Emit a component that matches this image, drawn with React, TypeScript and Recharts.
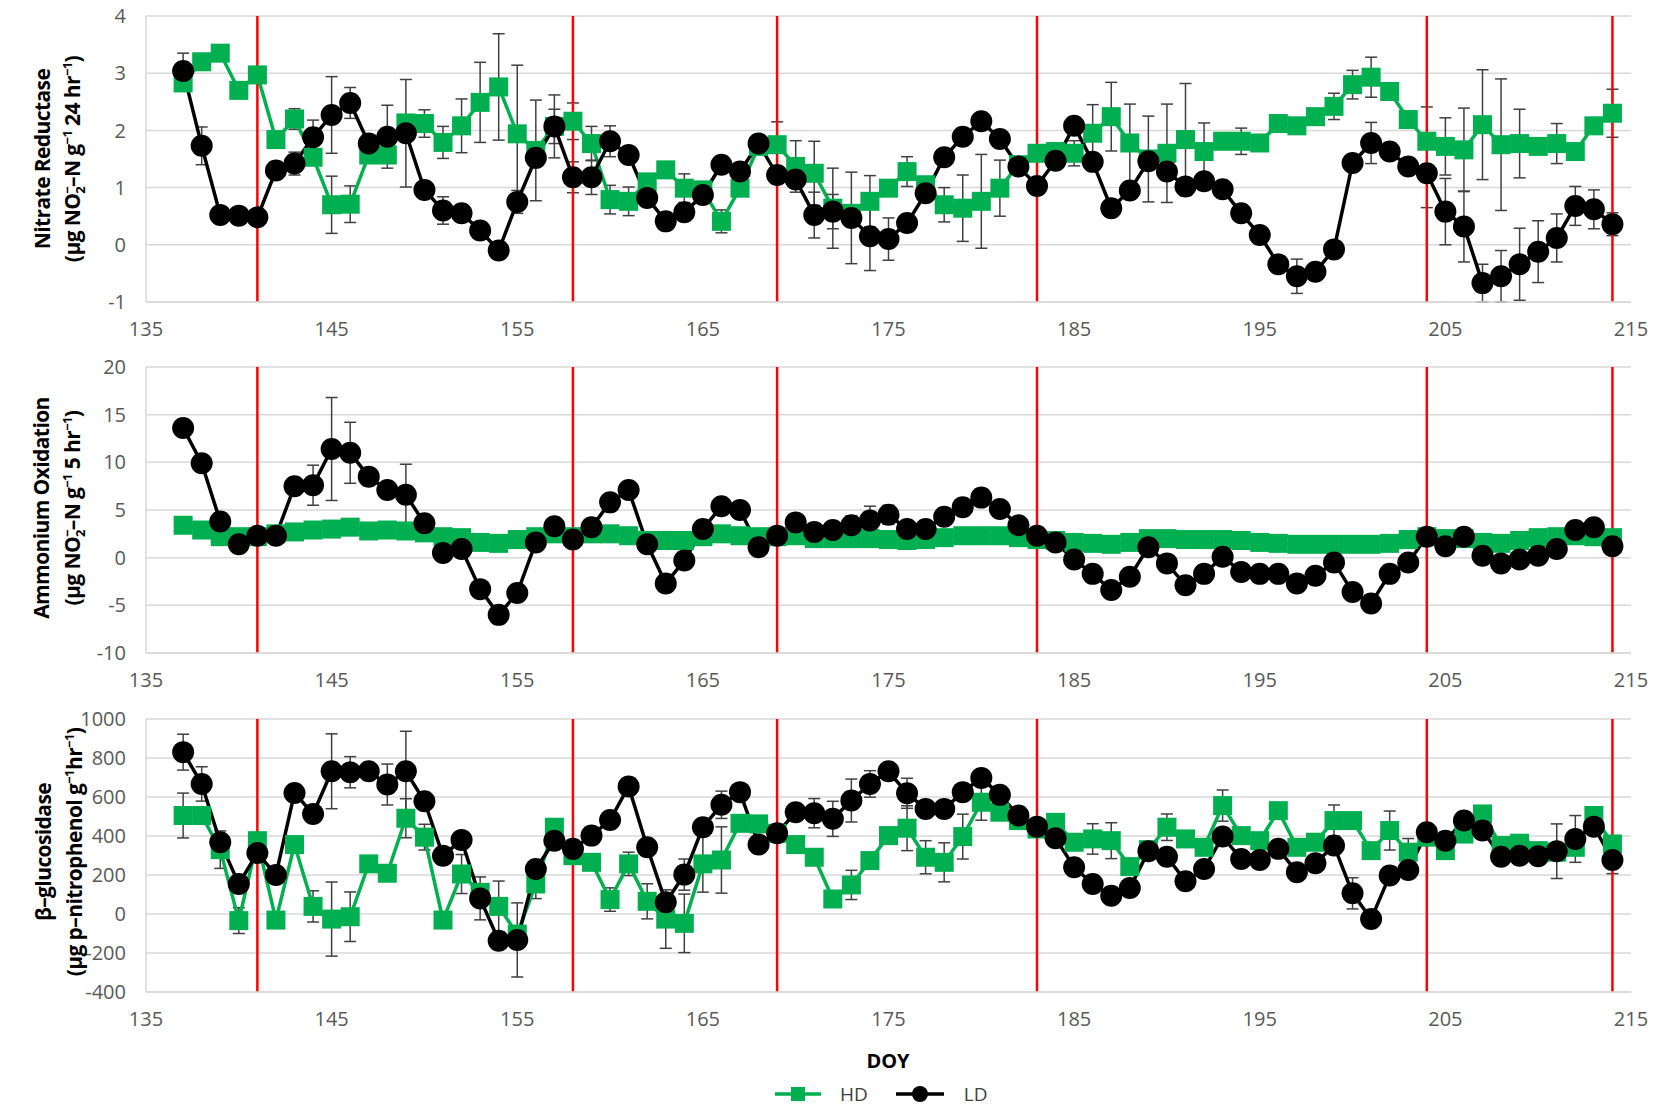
import React from 'react'
import {
  LineChart,
  Line,
  XAxis,
  YAxis,
  CartesianGrid,
  ReferenceLine,
  ErrorBar
} from 'recharts'

// sampling days (DOY)
const days = [
  137, 138, 139, 140, 141, 142, 143, 144, 145, 146,
  147, 148, 149, 150, 151, 152, 153, 154, 155, 156,
  157, 158, 159, 160, 161, 162, 163, 164, 165, 166,
  167, 168, 169, 170, 171, 172, 173, 174, 175, 176,
  177, 178, 179, 180, 181, 182, 183, 184, 185, 186,
  187, 188, 189, 190, 191, 192, 193, 194, 195, 196,
  197, 198, 199, 200, 201, 202, 203, 204, 205, 206,
  207, 208, 209, 210, 211, 212, 213, 214
]

// harvest days (red lines)
const harvestDays = [141, 158, 169, 183, 204, 214]
const xTicks = [135, 145, 155, 165, 175, 185, 195, 205, 215]

// Nitrate reductase
const nrHD = [
  2.83, 3.2, 3.35, 2.7, 2.97, 1.84, 2.2, 1.53, 0.7, 0.71,
  1.57, 1.57, 2.13, 2.12, 1.79, 2.08, 2.49, 2.76, 1.94, 1.65,
  2.07, 2.16, 1.77, 0.79, 0.76, 1.1, 1.31, 0.99, 0.96, 0.41,
  0.99, 1.72, 1.75, 1.37, 1.25, 0.64, 0.55, 0.76, 0.99, 1.28,
  1.05, 0.7, 0.64, 0.76, 0.99, 1.4, 1.6, 1.63, 1.6, 1.95,
  2.24, 1.78, 1.5, 1.6, 1.84, 1.63, 1.81, 1.81, 1.78, 2.12,
  2.08, 2.24, 2.42, 2.8, 2.93, 2.68, 2.19, 1.81, 1.72, 1.66,
  2.1, 1.75, 1.77, 1.72, 1.77, 1.63, 2.08, 2.3
]
const nrHDErr = [
  0.1, 0.05, 0.05, 0.05, 0.05, 0.1, 0.18, 0.1, 0.5, 0.32,
  0.1, 0.1, 0.1, 0.24, 0.28, 0.47, 0.7, 0.93, 1.2, 0.88,
  0.55, 0.32, 0.3, 0.25, 0.25, 0.1, 0.1, 0.25, 0.1, 0.2,
  0.1, 0.1, 0.4, 0.45, 0.56, 0.7, 0.1, 0.45, 0.1, 0.26,
  0.1, 0.3, 0.58, 0.82, 0.49, 0.1, 0.1, 0.1, 0.22, 0.5,
  0.6, 0.68, 0.75, 0.86, 0.98, 0.5, 0.1, 0.23, 0.1, 0.1,
  0.1, 0.1, 0.23, 0.25, 0.35, 0.1, 0.1, 0.6, 0.5, 0.73,
  0.96, 1.15, 0.6, 0.1, 0.35, 0.1, 0.1, 0.42
]
const nrLD = [
  3.04, 1.73, 0.52, 0.51, 0.48, 1.3, 1.42, 1.88, 2.27, 2.48,
  1.77, 1.89, 1.95, 0.96, 0.6, 0.55, 0.25, -0.1, 0.75, 1.52,
  2.07, 1.18, 1.18, 1.81, 1.57, 0.82, 0.41, 0.57, 0.87, 1.4,
  1.28, 1.77, 1.22, 1.14, 0.52, 0.58, 0.47, 0.15, 0.1, 0.38,
  0.9, 1.53, 1.89, 2.16, 1.85, 1.37, 1.03, 1.47, 2.08, 1.45,
  0.64, 0.95, 1.46, 1.28, 1.02, 1.11, 0.97, 0.55, 0.17, -0.34,
  -0.55, -0.47, -0.08, 1.43, 1.78, 1.63, 1.37, 1.25, 0.58, 0.32,
  -0.67, -0.55, -0.34, -0.12, 0.12, 0.68, 0.62, 0.36
]
const nrLDErr = [
  0.31, 0.33, 0.05, 0.05, 0.05, 0.05, 0.2, 0.3, 0.67, 0.27,
  0.1, 0.55, 0.94, 0.1, 0.24, 0.1, 0.1, 0.1, 0.2, 0.1,
  0.3, 0.27, 0.3, 0.27, 0.1, 0.1, 0.1, 0.1, 0.1, 0.1,
  0.1, 0.1, 0.1, 0.1, 0.4, 0.3, 0.8, 0.6, 0.37, 0.1,
  0.1, 0.1, 0.1, 0.1, 0.1, 0.1, 0.1, 0.1, 0.1, 0.1,
  0.1, 0.1, 0.1, 0.1, 0.1, 0.1, 0.1, 0.1, 0.1, 0.1,
  0.3, 0.1, 0.1, 0.1, 0.36, 0.1, 0.1, 0.6, 0.58, 0.62,
  0.33, 0.45, 0.63, 0.54, 0.42, 0.34, 0.34, 0.2
]

// Ammonium oxidation
const aoHD = [
  3.4, 2.9, 2.2, 2.2, 2.2, 2.5, 2.7, 2.9, 3.0, 3.2,
  2.8, 2.9, 2.8, 2.6, 2.2, 2.1, 1.6, 1.5, 1.9, 2.2,
  2.5, 2.2, 2.5, 2.5, 2.3, 1.8, 1.8, 1.8, 2.2, 2.5,
  2.3, 2.2, 2.2, 2.3, 2.0, 2.0, 2.0, 2.0, 1.9, 1.8,
  1.9, 2.1, 2.3, 2.3, 2.3, 2.1, 1.9, 1.8, 1.6, 1.5,
  1.4, 1.6, 2.0, 2.0, 1.9, 1.9, 1.9, 1.8, 1.6, 1.5,
  1.4, 1.4, 1.4, 1.4, 1.4, 1.5, 1.9, 2.2, 2.0, 2.0,
  1.6, 1.5, 1.8, 2.1, 2.2, 2.3, 2.2, 2.1
]
const aoHDErr = [
  0.3, 0.3, 0.3, 0.3, 0.3, 0.3, 0.3, 0.3, 0.3, 0.3,
  0.3, 0.3, 0.3, 0.3, 0.3, 0.3, 0.3, 0.3, 0.3, 0.3,
  0.3, 0.3, 0.3, 0.3, 0.3, 0.3, 0.3, 0.3, 0.3, 0.3,
  0.3, 0.3, 0.3, 0.3, 0.3, 0.3, 0.3, 0.3, 0.3, 0.3,
  0.3, 0.3, 0.3, 0.3, 0.3, 0.3, 0.3, 0.3, 0.3, 0.3,
  0.3, 0.3, 0.3, 0.3, 0.3, 0.3, 0.3, 0.3, 0.3, 0.3,
  0.3, 0.3, 0.3, 0.3, 0.3, 0.3, 0.3, 0.3, 0.3, 0.3,
  0.3, 0.3, 0.3, 0.3, 0.3, 0.3, 0.3, 0.3
]
const aoLD = [
  13.6, 9.9, 3.8, 1.4, 2.3, 2.3, 7.5, 7.6, 11.4, 11.0,
  8.5, 7.1, 6.6, 3.6, 0.5, 0.9, -3.3, -6.0, -3.7, 1.6,
  3.3, 1.9, 3.2, 5.8, 7.1, 1.4, -2.7, -0.3, 3.0, 5.4,
  5.0, 1.1, 2.3, 3.7, 2.7, 2.9, 3.4, 3.9, 4.5, 3.0,
  3.0, 4.3, 5.3, 6.3, 5.1, 3.4, 2.3, 1.6, -0.2, -1.7,
  -3.4, -2.0, 1.1, -0.6, -2.9, -1.7, 0.1, -1.5, -1.7, -1.7,
  -2.7, -1.9, -0.5, -3.6, -4.8, -1.7, -0.5, 2.2, 1.2, 2.2,
  0.2, -0.6, -0.2, 0.2, 0.9, 2.9, 3.2, 1.2
]
const aoLDErr = [
  0.3, 0.3, 0.3, 0.3, 0.3, 0.3, 0.3, 2.1, 5.4, 3.2,
  0.3, 0.3, 3.2, 0.3, 0.3, 0.3, 0.3, 0.3, 0.3, 0.3,
  0.3, 0.3, 0.3, 0.3, 0.3, 0.3, 0.3, 0.3, 0.3, 0.3,
  0.3, 0.3, 0.3, 0.3, 0.5, 0.8, 1.0, 1.5, 1.0, 0.3,
  0.3, 0.3, 0.3, 0.3, 0.3, 0.3, 0.3, 0.3, 0.3, 0.3,
  0.3, 0.3, 0.3, 0.3, 0.3, 0.3, 0.3, 0.3, 0.3, 0.3,
  0.3, 0.3, 0.3, 0.3, 0.3, 0.3, 0.3, 0.3, 0.3, 0.3,
  0.3, 0.3, 0.3, 0.3, 0.3, 0.3, 0.3, 0.3
]

// beta-glucosidase
const bgHD = [
  505, 505, 330, -34, 376, -31, 356, 39, -26, -14,
  257, 209, 491, 394, -31, 205, 111, 39, -103, 154,
  445, 299, 265, 74, 257, 65, -26, -48, 257, 277,
  465, 462, 414, 356, 291, 77, 149, 274, 402, 440,
  291, 265, 397, 573, 522, 479, 436, 470, 368, 385,
  376, 243, 330, 445, 385, 342, 556, 402, 376, 530,
  342, 368, 479, 479, 325, 428, 317, 394, 325, 410,
  513, 351, 363, 325, 317, 342, 505, 359
]
const bgHDErr = [
  115, 30, 96, 66, 30, 30, 30, 80, 190, 127,
  30, 30, 100, 66, 30, 100, 30, 130, 30, 75,
  30, 30, 30, 60, 60, 90, 150, 150, 145, 170,
  30, 30, 30, 30, 30, 30, 75, 30, 30, 115,
  85, 100, 115, 92, 30, 30, 30, 30, 30, 78,
  92, 30, 30, 68, 30, 30, 80, 30, 30, 30,
  30, 30, 80, 30, 30, 100, 70, 30, 30, 30,
  30, 30, 30, 30, 30, 30, 30, 30
]
const bgLD = [
  830, 667, 368, 154, 313, 200, 621, 513, 732, 727,
  732, 664, 732, 578, 299, 380, 80, -137, -133, 231,
  376, 334, 402, 482, 654, 342, 60, 202, 445, 560,
  625, 356, 414, 522, 517, 488, 582, 667, 732, 619,
  539, 539, 625, 698, 611, 505, 448, 388, 240, 154,
  94, 133, 322, 294, 168, 231, 397, 282, 277, 334,
  214, 260, 351, 106, -26, 197, 226, 419, 376, 479,
  428, 294, 299, 296, 322, 385, 448, 277
]
const bgLDErr = [
  92, 88, 30, 30, 30, 30, 30, 30, 192, 80,
  30, 105, 205, 30, 30, 30, 110, 30, 190, 30,
  30, 30, 30, 30, 30, 30, 30, 80, 30, 70,
  30, 30, 30, 30, 75, 90, 110, 68, 30, 77,
  30, 30, 30, 30, 30, 30, 30, 30, 30, 30,
  30, 30, 30, 30, 30, 30, 30, 30, 30, 30,
  30, 30, 30, 80, 30, 30, 30, 30, 30, 30,
  30, 30, 30, 30, 140, 120, 30, 70
]

const GREEN = '#00b050'
const GRID = '#d9d9d9'
const TICK_FONT = { fontSize: 20, fill: '#595959', fontFamily: 'Open Sans' }

function buildRows(hd: number[], hdErr: number[], ld: number[], ldErr: number[]) {
  return days.map((d, i) => ({ day: d, hd: hd[i], hdErr: hdErr[i], ld: ld[i], ldErr: ldErr[i] }))
}

const SquareDot = (props: any) => {
  const { cx, cy, index } = props
  if (cx == null || cy == null) return null
  return <rect key={'s' + index} x={cx - 9.5} y={cy - 9.5} width={19} height={19} fill={GREEN} />
}

const CircleDot = (props: any) => {
  const { cx, cy, index } = props
  if (cx == null || cy == null) return null
  return <circle key={'c' + index} cx={cx} cy={cy} r={11} fill='#000' />
}

interface PanelProps {
  rows: any[]
  top: number
  plotHeight: number
  domain: [number, number]
  ticks: number[]
}

function Panel({ rows, top, plotHeight, domain, ticks }: PanelProps) {
  const mTop = 20
  const height = mTop + plotHeight + 45
  return (
    <div style={{ position: 'absolute', left: 0, top: top - mTop }}>
      <LineChart
        width={1660}
        height={height}
        data={rows}
        margin={{ top: mTop, right: 29, bottom: 5, left: 76 }}
      >
        <CartesianGrid vertical={false} stroke={GRID} strokeWidth={1.5} />
        <XAxis
          dataKey='day'
          type='number'
          domain={[135, 215]}
          ticks={xTicks}
          height={40}
          tickSize={0}
          tickMargin={20}
          axisLine={{ stroke: GRID, strokeWidth: 1.5 }}
          tickLine={false}
          tick={TICK_FONT}
        />
        <YAxis
          type='number'
          domain={domain}
          ticks={ticks}
          width={70}
          tickSize={0}
          tickMargin={20}
          axisLine={{ stroke: GRID, strokeWidth: 1.5 }}
          tickLine={false}
          tick={TICK_FONT}
          allowDataOverflow
        />
        <Line
          dataKey='hd'
          name='HD'
          type='linear'
          stroke={GREEN}
          strokeWidth={3.5}
          dot={SquareDot}
          activeDot={false}
          isAnimationActive={false}
        >
          <ErrorBar dataKey='hdErr' width={6} stroke='#404040' strokeWidth={1.5} isAnimationActive={false} />
        </Line>
        <Line
          dataKey='ld'
          name='LD'
          type='linear'
          stroke='#000'
          strokeWidth={3.5}
          dot={CircleDot}
          activeDot={false}
          isAnimationActive={false}
        >
          <ErrorBar dataKey='ldErr' width={6} stroke='#404040' strokeWidth={1.5} isAnimationActive={false} />
        </Line>
        {harvestDays.map(d => (
          <ReferenceLine key={d} x={d} stroke='#ff0000' strokeWidth={2.5} />
        ))}
      </LineChart>
    </div>
  )
}

const titleStyle: React.CSSProperties = {
  position: 'absolute',
  width: 360,
  height: 28,
  lineHeight: '28px',
  textAlign: 'center',
  transform: 'rotate(-90deg)',
  fontFamily: 'Open Sans',
  fontWeight: 700,
  fontSize: 21,
  letterSpacing: -0.6,
  color: '#000',
  whiteSpace: 'nowrap'
}

const supStyle: React.CSSProperties = { fontSize: 13, verticalAlign: 8, lineHeight: 0 }
const subStyle: React.CSSProperties = { fontSize: 13, verticalAlign: -5, lineHeight: 0 }

function Title({ cx, cy, children }: { cx: number; cy: number; children: React.ReactNode }) {
  return <div style={{ ...titleStyle, left: cx - 180, top: cy - 14 }}>{children}</div>
}

export default function App() {
  const nrRows = buildRows(nrHD, nrHDErr, nrLD, nrLDErr)
  const aoRows = buildRows(aoHD, aoHDErr, aoLD, aoLDErr)
  const bgRows = buildRows(bgHD, bgHDErr, bgLD, bgLDErr)

  return (
    <div style={{ position: 'absolute', left: 0, top: 0, width: 1660, height: 1107, background: '#fff' }}>
      <Panel rows={nrRows} top={16} plotHeight={286} domain={[-1, 4]} ticks={[-1, 0, 1, 2, 3, 4]} />
      <Panel rows={aoRows} top={367} plotHeight={286} domain={[-10, 20]} ticks={[-10, -5, 0, 5, 10, 15, 20]} />
      <Panel
        rows={bgRows}
        top={719}
        plotHeight={273}
        domain={[-400, 1000]}
        ticks={[-400, -200, 0, 200, 400, 600, 800, 1000]}
      />

      {/* y axis titles */}
      <Title cx={42} cy={159}>Nitrate Reductase</Title>
      <Title cx={72} cy={159}>
        (µg NO<span style={supStyle}>−</span><span style={{ ...subStyle, marginLeft: -7 }}>2</span>–N g<span style={supStyle}>−1</span> 24 hr<span style={supStyle}>−1</span>)
      </Title>
      <Title cx={41} cy={508}>Ammonium Oxidation</Title>
      <Title cx={72} cy={508}>
        (µg NO<span style={supStyle}>−</span><span style={{ ...subStyle, marginLeft: -7 }}>2</span>–N g<span style={supStyle}>−1</span> 5 hr<span style={supStyle}>−1</span>)
      </Title>
      <Title cx={43} cy={852}>β–glucosidase</Title>
      <Title cx={74} cy={852}>
        (µg p–nitrophenol g<span style={supStyle}>−1</span>hr<span style={supStyle}>−1</span>)
      </Title>

      {/* x axis title */}
      <div
        style={{
          position: 'absolute',
          left: 788,
          width: 200,
          top: 1047,
          textAlign: 'center',
          fontFamily: 'Open Sans',
          fontWeight: 700,
          fontSize: 20
        }}
      >
        DOY
      </div>

      {/* legend */}
      <div
        style={{
          position: 'absolute',
          left: 775,
          top: 1081,
          height: 26,
          display: 'flex',
          alignItems: 'center',
          fontFamily: 'Open Sans',
          fontSize: 19,
          color: '#404040'
        }}
      >
        <svg width={46} height={20}>
          <line x1={0} y1={10} x2={46} y2={10} stroke={GREEN} strokeWidth={3.5} />
          <rect x={16} y={3} width={14} height={14} fill={GREEN} />
        </svg>
        <span style={{ marginLeft: 19 }}>HD</span>
        <svg width={48} height={20} style={{ marginLeft: 28 }}>
          <line x1={0} y1={10} x2={48} y2={10} stroke='#000' strokeWidth={3.5} />
          <circle cx={24} cy={10} r={8} fill='#000' />
        </svg>
        <span style={{ marginLeft: 20 }}>LD</span>
      </div>
    </div>
  )
}
